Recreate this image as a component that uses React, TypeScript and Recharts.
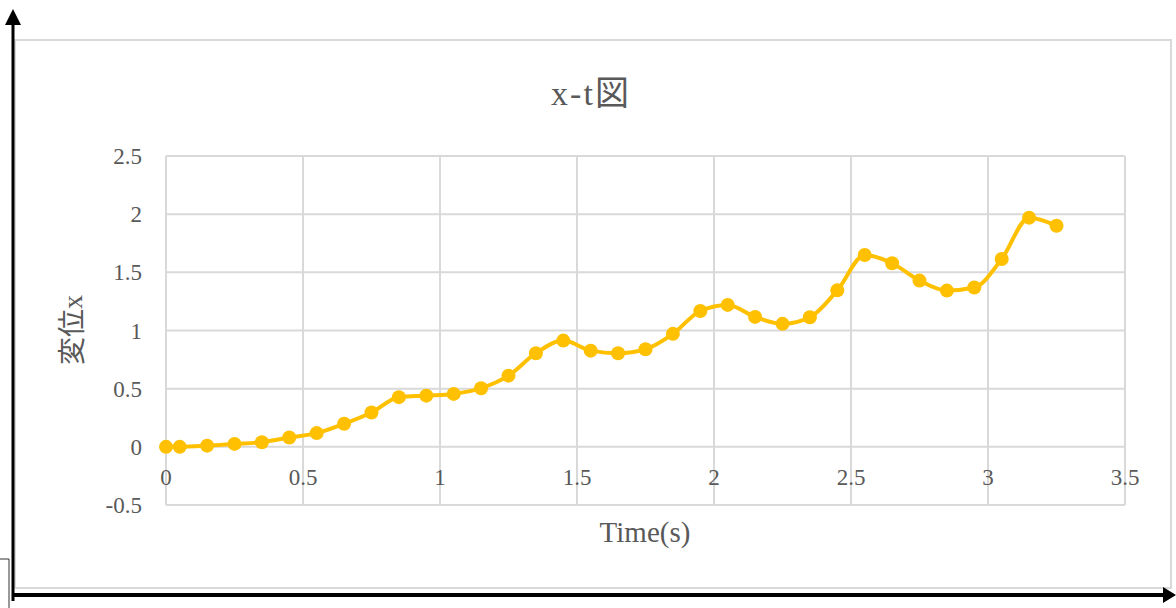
import { CartesianGrid, Line, LineChart, XAxis, YAxis } from "recharts"

// elapsed time (s) and measured displacement x
const times = [
  0, 0.05, 0.15, 0.25, 0.35, 0.45, 0.55, 0.65, 0.75, 0.85, 0.95, 1.05, 1.15, 1.25, 1.35, 1.45, 1.55,
  1.65, 1.75, 1.85, 1.95, 2.05, 2.15, 2.25, 2.35, 2.45, 2.55, 2.65, 2.75, 2.85, 2.95, 3.05, 3.15, 3.25,
]
const displacement = [
  0, 0, 0.01, 0.025, 0.04, 0.08, 0.118, 0.198, 0.295, 0.427, 0.44, 0.455, 0.504, 0.612, 0.805, 0.913,
  0.827, 0.805, 0.839, 0.971, 1.168, 1.22, 1.117, 1.057, 1.114, 1.345, 1.649, 1.578, 1.429, 1.343,
  1.369, 1.615, 1.97, 1.901,
]
const xTicks = [0, 0.5, 1, 1.5, 2, 2.5, 3, 3.5]
const yTicks = [-0.5, 0, 0.5, 1, 1.5, 2, 2.5]

const data = times.map((t, i) => ({ t, x: displacement[i] }))

const W = 1176
const H = 608
const TEXT = "#595959"
const SERIF = "'Liberation Serif', 'Noto Sans CJK JP', serif"
const TICK_SIZE = 23

// x tick labels sit just under the y = 0 line, not at the bottom of the plot
function TimeTick({ x, y, payload }: any) {
  return (
    <text x={x} y={y} dy={-28} textAnchor="middle" dominantBaseline="central" fill={TEXT} fontSize={TICK_SIZE} fontFamily={SERIF}>
      {payload.value}
    </text>
  )
}

export default function App() {
  return (
    <div style={{ position: "relative", width: W, height: H, background: "#fff" }}>
      <style>{"body{margin:0}"}</style>
      <svg width={W} height={H} style={{ position: "absolute", left: 0, top: 0 }}>
        <rect x={15} y={40} width={1156} height={548} fill="#fff" stroke="#d9d9d9" strokeWidth={2} />
      </svg>
      <div style={{ position: "absolute", left: 0, top: 0 }}>
        <LineChart width={W} height={H} data={data} margin={{ top: 156, right: 51, left: 86, bottom: 73 }}>
          <CartesianGrid stroke="#d9d9d9" strokeWidth={2} />
          <XAxis
            dataKey="t"
            type="number"
            domain={[0, 3.5]}
            ticks={xTicks}
            interval={0}
            axisLine={false}
            tickLine={false}
            tickSize={0}
            tickMargin={0}
            height={30}
            tick={(p: any) => <TimeTick {...p} />}
          />
          <YAxis
            type="number"
            domain={[-0.5, 2.5]}
            ticks={yTicks}
            axisLine={false}
            tickLine={false}
            tickSize={0}
            tickMargin={24}
            width={80}
            tick={{ fill: TEXT, fontSize: TICK_SIZE, fontFamily: SERIF }}
          />
          <Line
            type="monotone"
            dataKey="x"
            stroke="#FFC000"
            strokeWidth={4}
            dot={{ r: 7, fill: "#FFC000", stroke: "none" }}
            isAnimationActive={false}
          />
        </LineChart>
      </div>
      <svg width={W} height={H} style={{ position: "absolute", left: 0, top: 0, pointerEvents: "none" }}>
        <text x={591} y={93} textAnchor="middle" dominantBaseline="central" fill={TEXT} fontSize={34} fontFamily={SERIF} letterSpacing={2}>
          x-t図
        </text>
        <text x={645} y={532} textAnchor="middle" dominantBaseline="central" fill={TEXT} fontSize={29} fontFamily={SERIF}>
          Time(s)
        </text>
        <text
          x={72}
          y={330}
          textAnchor="middle"
          dominantBaseline="central"
          fill={TEXT}
          fontSize={28}
          fontFamily={SERIF}
          transform="rotate(-90 72 330)"
        >
          変位x
        </text>
        {/* black axis arrows around the chart */}
        <line x1={13} y1={24} x2={13} y2={601} stroke="#000" strokeWidth={3} />
        <polygon points="5,25 21,25 13,9" fill="#000" />
        <line x1={12} y1={595} x2={1164} y2={595} stroke="#000" strokeWidth={4} />
        <polygon points="1163,587 1163,603 1176,595" fill="#000" />
        <polyline points="0,559 9,559 9,608" fill="none" stroke="#333" strokeWidth={1} />
      </svg>
    </div>
  )
}
